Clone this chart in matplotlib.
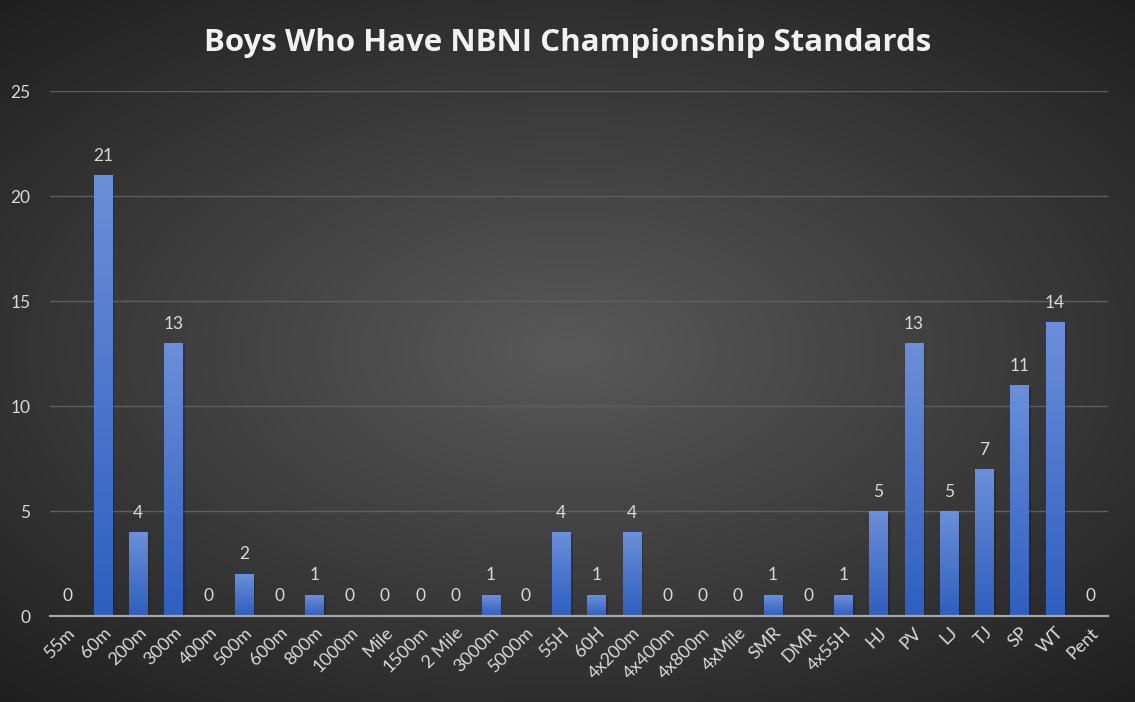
import numpy as np
import matplotlib
matplotlib.use("Agg")
import matplotlib.pyplot as plt
from matplotlib.patches import Rectangle

events = ["55m", "60m", "200m", "300m", "400m", "500m", "600m", "800m", "1000m",
          "Mile", "1500m", "2 Mile", "3000m", "5000m", "55H", "60H", "4x200m",
          "4x400m", "4x800m", "4xMile", "SMR", "DMR", "4x55H", "HJ", "PV", "LJ",
          "TJ", "SP", "WT", "Pent"]
counts = [0, 21, 4, 13, 0, 2, 0, 1, 0, 0, 0, 0, 1, 0, 4, 1, 4, 0, 0, 0, 1, 0, 1,
          5, 13, 5, 7, 11, 14, 0]
yticks = [0, 5, 10, 15, 20, 25]

plt.rcParams['font.family'] = ['Lato', 'DejaVu Sans']
txt = '#d9d9d9'

fig = plt.figure(figsize=(11.35, 7.02), dpi=100)

# radial dark background
bg = fig.add_axes([0, 0, 1, 1])
yy, xx = np.mgrid[-1:1:400j, -1:1:600j]
r = np.sqrt((xx * 0.9) ** 2 + (yy * 1.0) ** 2)
shade = np.clip(0.35 - 0.17 * r, 0.12, 0.36)
bg.imshow(np.dstack([shade, shade, shade]), aspect='auto', extent=[0, 1, 0, 1])
bg.axis('off')

ax = fig.add_axes([0.044, 0.1225, 0.932, 0.7475])
ax.patch.set_alpha(0)
x = np.arange(len(events))
w = 0.52
bars = ax.bar(x, counts, width=w, color='none', zorder=3)

grad = np.linspace(0, 1, 256).reshape(-1, 1)
top = np.array([0.42, 0.56, 0.85])
bot = np.array([0.18, 0.37, 0.75])
img = (bot + (top - bot) * grad[:, :, None].repeat(1, axis=1)).reshape(256, 1, 3)
for b, v in zip(bars, counts):
    if v <= 0:
        continue
    x0 = b.get_x()
    # soft shadow
    ax.add_patch(Rectangle((x0 + 0.06, 0), w, v - 0.1, color='black', alpha=0.18,
                           zorder=2, lw=0))
    ax.imshow(img, extent=[x0, x0 + w, 0, v], origin='lower', aspect='auto',
              zorder=3, interpolation='bilinear')

for xi, v in zip(x, counts):
    ax.text(xi, v + 0.55, str(v), ha='center', va='bottom', color=txt, fontsize=12.5)

ax.set_xlim(-0.5, len(events) - 0.5)
ax.set_ylim(0, 25)
ax.set_yticks(yticks)
ax.set_yticklabels([str(t) for t in yticks])
ax.set_xticks(x)
ax.set_xticklabels(events, rotation=45, ha='right', rotation_mode='anchor')
ax.tick_params(axis='both', length=0, colors=txt, labelsize=12.5)
ax.tick_params(axis='x', labelsize=13)
ax.tick_params(axis='y', pad=14)
ax.tick_params(axis='x', pad=6)
ax.grid(axis='y', color='#5e5e5e', lw=1, zorder=0)
for s in ['top', 'right', 'left']:
    ax.spines[s].set_visible(False)
ax.spines['bottom'].set_color('#a6a6a6')
ax.spines['bottom'].set_linewidth(1.6)
ax.spines['bottom'].set_zorder(4)

fig.text(0.5, 0.939, "Boys Who Have NBNI Championship Standards", ha='center',
         va='center', color='#f2f2f2', fontsize=22.5, fontweight='bold',
         family=['Open Sans', 'DejaVu Sans'])

fig.savefig("out.png", dpi=100)
